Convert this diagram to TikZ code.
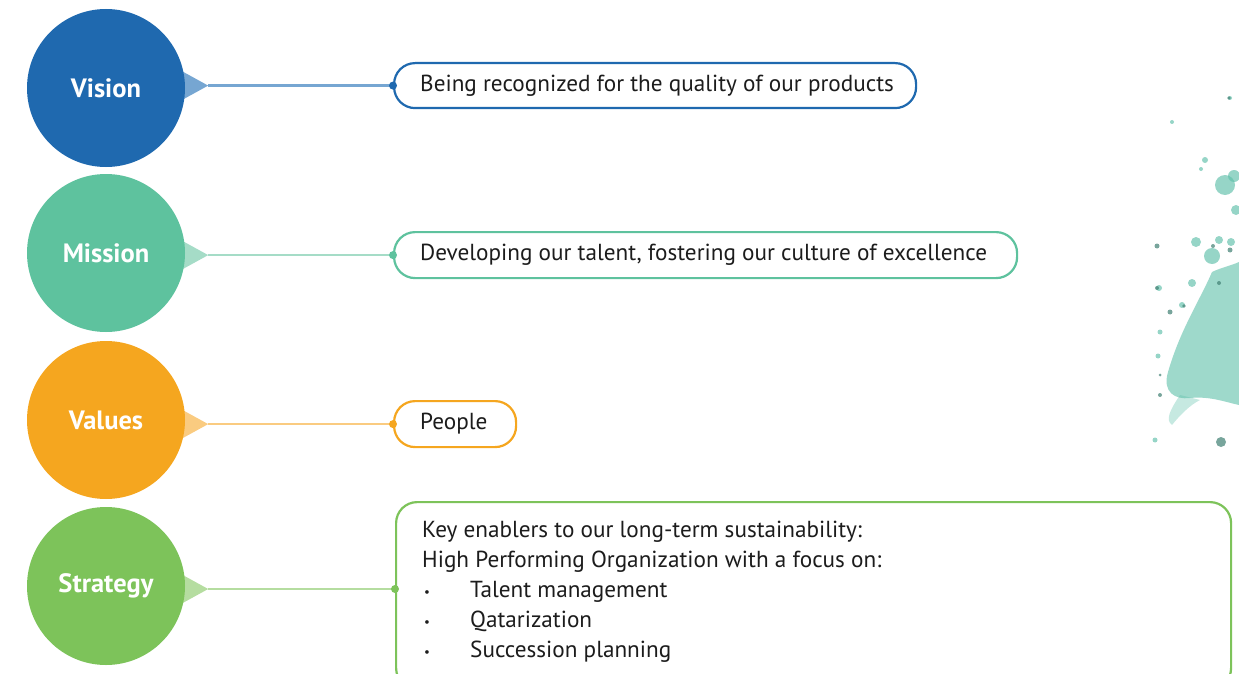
\documentclass[tikz,border=0pt]{standalone}
\usepackage{fontspec}
\setmainfont{PT Sans}
\usetikzlibrary{backgrounds,calc}
\definecolor{vblue}{HTML}{1F69AF}
\definecolor{vlight}{HTML}{76A6D2}
\definecolor{mgreen}{HTML}{5EC29E}
\definecolor{mlight}{HTML}{A5DCC7}
\definecolor{vorange}{HTML}{F5A61F}
\definecolor{olight}{HTML}{FACB80}
\definecolor{sgreen}{HTML}{7DC35A}
\definecolor{slight}{HTML}{B5DDA0}
\definecolor{textgray}{HTML}{1C1C1C}
\definecolor{splash}{HTML}{5DBFA9}
\definecolor{splashdark}{HTML}{3F7F72}
\newcommand{\listdot}{\makebox[48pt][l]{\hspace{2pt}\raisebox{1.5pt}{\fontsize{13}{13}\selectfont •}}}
\begin{document}
\begin{tikzpicture}[x=1pt,y=-1pt,
  pillar/.style={circle, minimum size=158pt, inner sep=0pt, text=white,
    font=\bfseries\fontsize{26.5}{30}\selectfont},
  card/.style={draw, line width=2.2pt, rounded corners=21pt, fill=white,
    anchor=north west, inner sep=0pt},
  cardtext/.style={anchor=west, text=textgray, inner sep=0pt,
    font=\fontsize{23.2}{30}\selectfont, align=left},
  link/.style={line width=2.4pt},
  pin/.style={circle, inner sep=0pt, minimum size=8pt}]
\useasboundingbox (0,0) rectangle (1239,674);

% paint splash on the right edge
\begin{scope}
  \fill[splash, opacity=0.6] (1212,272) .. controls (1200,300) and (1180,330) .. (1168,372)
     .. controls (1162,392) and (1175,400) .. (1190,398)
     .. controls (1210,396) and (1225,402) .. (1239,405) -- (1239,262)
     .. controls (1230,266) and (1220,268) .. (1212,272) -- cycle;
  \fill[splash, opacity=0.35] (1180,395) .. controls (1170,410) and (1165,420) .. (1172,425)
     .. controls (1180,415) and (1190,405) .. (1200,400) -- cycle;
  \foreach \x/\y/\r in {1225/185/10, 1234/176/6, 1212/256/8, 1196/242/5, 1219/240/4,
     1231/242/4, 1236/210/5, 1205/160/3, 1192/283/4, 1182/305/3, 1159/288/3,
     1160/332/2.5, 1158/356/2.5, 1155/440/2.5, 1201/169/2, 1172/122/2, 1230/98/2}
    \fill[splash, opacity=0.65] (\x,\y) circle (\r);
  \foreach \x/\y/\r in {1221/442/5, 1157/246/2.5, 1157/288/2, 1170/312/2.5, 1184/306/1.8,
     1219/283/2, 1229/98/1.8, 1160/395/2, 1160/375/1.5, 1230/250/2.5, 1213/246/2}
    \fill[splashdark, opacity=0.7] (\x,\y) circle (\r);
\end{scope}

% four pillars
\node[pillar, fill=vblue]   (vc) at (106,88)  {Vision};
\node[pillar, fill=mgreen]  (mc) at (106,253) {Mission};
\node[pillar, fill=vorange] (oc) at (106,420) {Values};
\node[pillar, fill=sgreen]  (sc) at (106,586) {Strategy};

% statement cards
\node[card, draw=vblue,   minimum width=522pt, minimum height=45pt] (vbox) at (393,62)  {};
\node[card, draw=mgreen,  minimum width=623pt, minimum height=46pt] (mbox) at (393,231) {};
\node[card, draw=vorange, minimum width=122pt, minimum height=46pt] (obox) at (393,400) {};
\node[card, draw=sgreen,  minimum width=835pt, minimum height=187pt] (sbox) at (395,501) {};

% entry points of the connectors on each card
\coordinate (vbox-in) at (vbox.west);
\coordinate (mbox-in) at (mbox.west);
\coordinate (obox-in) at (obox.west);
\coordinate (sbox-in) at ($(sbox.north west)+(0,88)$);

\node[cardtext] (vtxt) at ($(vbox.west)+(27,0)$) {Being recognized for the quality of our products};
\node[cardtext] (mtxt) at ($(mbox.west)+(27,0)$) {Developing our talent, fostering our culture of excellence};
\node[cardtext] (otxt) at ($(obox.west)+(27,0)$) {People};
\node[cardtext, anchor=north west] (stxt) at ($(sbox.north west)+(27,20)$)
  {Key enablers to our long-term sustainability:\\
   High Performing Organization with a focus on:\\
   \listdot Talent management\\
   \listdot Qatarization\\
   \listdot Succession planning};

% connectors: tapered spike, thin line and end pin
\foreach \c/\b/\dark/\light in {vc/vbox/vblue/vlight, mc/mbox/mgreen/mlight,
                                oc/obox/vorange/olight, sc/sbox/sgreen/slight} {
  \coordinate (\c-tip) at ($(\c.east |- \b-in)+(23,0)$);
  \begin{pgfonlayer}{background}
    \fill[\light] ($(\c-tip)+(-40,-22)$) -- (\c-tip) -- ($(\c-tip)+(-40,22)$) -- cycle;
  \end{pgfonlayer}
  \draw[link, \light] (\c-tip) -- (\b-in);
  \node[pin, fill=\dark] at (\b-in) {};
}
\end{tikzpicture}
\end{document}
